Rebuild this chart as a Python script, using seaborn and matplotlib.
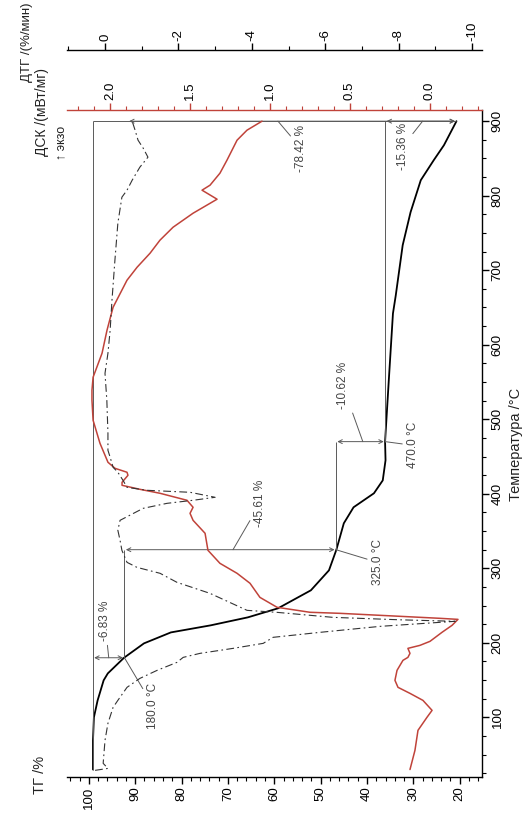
import matplotlib.pyplot as plt
import seaborn as sns
from matplotlib.ticker import MultipleLocator

sns.set_theme(style="white")
plt.rcParams['font.family'] = ['Liberation Sans', 'DejaVu Sans']
plt.rcParams['axes.edgecolor'] = 'black'
plt.rcParams['text.color'] = '#222222'
plt.rcParams['lines.solid_joinstyle'] = 'round'

RED = '#c0433a'
GREY = '#5a5a5a'

# TG curve: temperature (°C) / mass (%)
tg_temp = [30, 69, 100, 122.8, 149.7, 159, 180, 199.3, 214, 223.5, 234.2, 246.3, 270.5,
           297.3, 325, 360.4, 381.9, 400.7, 418, 445, 470, 552, 642, 666, 733.6, 777.9,
           820.8, 847.7, 867.8, 900]
tg_val = [99.1, 99.1, 98.9, 98.1, 96.8, 95.9, 92.4, 88.1, 82.3, 73.7, 65.7, 59.2, 52.1,
          48.2, 46.6, 45.0, 42.9, 38.5, 36.6, 36.0, 36.1, 35.3, 34.4, 33.8, 32.3, 30.6,
          28.4, 25.6, 23.4, 20.7]

# DSC curve (mW/mg)
dsc_temp = [30, 55.7, 82.6, 100, 109.4, 122.8, 132.2, 140.3, 149.7, 163.1, 176.5, 180.5,
            185.9, 192.6, 196.6, 202, 214.1, 223.5, 231.5, 232.9, 235.6, 239.6, 241,
            247.7, 261, 279.9, 293.3, 306.7, 324.2, 347, 364.4, 373.8, 381.9, 391.3,
            400.7, 406, 411.4, 415.4, 424.8, 428.9, 434.2, 442.3, 467.8, 498.7, 525.5,
            539, 556.4, 588.6, 619.5, 650.3, 686.6, 704, 722.8, 740.3, 757.7, 776.5,
            795.3, 807.4, 814.1, 830.2, 847.7, 874.5, 887.9, 900]
dsc_val = [0.125, 0.094, 0.075, 0.019, -0.013, 0.044, 0.125, 0.2, 0.219, 0.206, 0.169,
           0.138, 0.125, 0.138, 0.063, 0.0, -0.075, -0.138, -0.175, -0.063, 0.188, 0.563,
           0.75, 0.956, 1.063, 1.125, 1.206, 1.313, 1.388, 1.406, 1.481, 1.5, 1.481,
           1.519, 1.688, 1.813, 1.925, 1.925, 1.888, 1.894, 1.969, 2.013, 2.063, 2.106,
           2.113, 2.113, 2.106, 2.05, 2.019, 1.981, 1.894, 1.831, 1.75, 1.688, 1.606,
           1.481, 1.331, 1.425, 1.375, 1.313, 1.269, 1.206, 1.144, 1.05]

# DTG curve (%/min)
dtg_temp = [28.9, 31.5, 38.3, 69.1, 92, 113.4, 122.8, 140.3, 152.3, 163.1, 173.8, 180.5,
            185.9, 189.9, 192.6, 199.3, 207.4, 214.1, 222.1, 228.9, 230.9, 234.2, 240.9,
            243.6, 266.4, 281.2, 293.3, 301.3, 308, 324.2, 337.6, 351, 364.4, 380.5,
            387.2, 391.3, 395.3, 402, 404.7, 408.7, 418.1, 428.9, 435.6, 449, 458.4,
            481.2, 525.5, 561.7, 588.6, 619.5, 659.7, 713.4, 763, 798, 807.4, 820.8,
            838.3, 851.7, 863.8, 874.5, 887.9, 900]
dtg_val = [0.27, -0.08, 0.05, 0.0, -0.08, -0.22, -0.35, -0.6, -0.95, -1.42, -1.96, -2.13,
           -2.59, -3.13, -3.49, -4.31, -4.58, -5.86, -7.49, -9.54, -8.04, -6.21, -4.69,
           -3.87, -2.86, -1.96, -1.5, -0.87, -0.6, -0.46, -0.41, -0.35, -0.41, -1.04,
           -1.69, -2.4, -3.0, -2.32, -1.14, -0.6, -0.49, -0.35, -0.22, -0.14, -0.08,
           -0.08, -0.05, 0.0, -0.08, -0.14, -0.19, -0.27, -0.35, -0.46, -0.6, -0.74,
           -0.95, -1.17, -1.04, -0.9, -0.82, -0.74]

# mass-loss steps
levels = [99.14, 92.31, 46.70, 36.08, 20.72]
step_temp = [180, 325, 470, 900]
step_text = ['-6.83 %', '-45.61 %', '-10.62 %', '-15.36 %']
total_text = '-78.42 %'

fig = plt.figure(figsize=(5.26, 8.13), dpi=100)
ax = fig.add_axes([0.1274, 0.0443, 0.7889, 0.8204])
ax2 = ax.twiny()
ax3 = ax.twiny()

sns.lineplot(x=tg_val, y=tg_temp, sort=False, estimator=None, ax=ax, color='black', lw=1.3)
sns.lineplot(x=dsc_val, y=dsc_temp, sort=False, estimator=None, ax=ax2, color=RED, lw=1.1)
sns.lineplot(x=dtg_val, y=dtg_temp, sort=False, estimator=None, ax=ax3, color='#333333', lw=0.8)
ax3.lines[-1].set_dashes([7, 3, 1.5, 3])

ax.set_xlim(104.7, 15.2)
ax.set_ylim(20, 915)
ax2.set_xlim(2.269, -0.325)
ax3.set_xlim(1.035, -10.27)

# reference lines and step arrows
ax.vlines(levels[0], 30, 900, color=GREY, lw=0.7)
ax.vlines(levels[1], step_temp[0], step_temp[1], color=GREY, lw=0.7)
ax.vlines(levels[2], step_temp[1], step_temp[2], color=GREY, lw=0.7)
ax.vlines(levels[3], step_temp[2], step_temp[3], color=GREY, lw=0.7)
ax.hlines(900, levels[0], levels[4], color=GREY, lw=0.7)

arr = dict(arrowstyle='<->', color=GREY, lw=0.7, shrinkA=1, shrinkB=1, mutation_scale=7)
for i in range(3):
    ax.annotate('', xy=(levels[i + 1], step_temp[i]), xytext=(levels[i], step_temp[i]), arrowprops=arr)
ax.annotate('', xy=(levels[4], 900), xytext=(levels[3], 900), arrowprops=arr)
ax.annotate('', xy=(levels[4], 900), xytext=(91.6, 900), arrowprops=arr)

lead = dict(arrowstyle='-', color=GREY, lw=0.7, shrinkA=1, shrinkB=0)
tk = dict(rotation=90, ha='center', va='center', fontsize=8.5, color='#444444')
ax.annotate(step_text[0], xy=(95.7, 180), xytext=(96.55, 230), arrowprops=lead, **tk)
ax.annotate('180.0 °C', xy=(levels[1], 180), xytext=(86.2, 116), arrowprops=lead, **tk)
ax.annotate(step_text[1], xy=(68.9, 325), xytext=(63.1, 387), arrowprops=lead, **tk)
ax.annotate('325.0 °C', xy=(levels[2], 325), xytext=(37.7, 308), arrowprops=lead, **tk)
ax.annotate(step_text[2], xy=(40.9, 470), xytext=(45.2, 545), arrowprops=lead, **tk)
ax.annotate('470.0 °C', xy=(levels[3], 470), xytext=(30.1, 465), arrowprops=lead, **tk)
ax.annotate(total_text, xy=(59.2, 900), xytext=(54.3, 864), arrowprops=lead, **tk)
ax.annotate(step_text[3], xy=(28.0, 900), xytext=(32.3, 866), arrowprops=lead, **tk)

# spines
for s in ['left', 'top']:
    ax.spines[s].set_visible(False)
for s in ['left', 'right', 'bottom']:
    ax2.spines[s].set_visible(False)
    ax3.spines[s].set_visible(False)
ax2.spines['top'].set_color(RED)
ax3.spines['top'].set_position(('outward', 43))
for a in (ax, ax2, ax3):
    for sp in a.spines.values():
        sp.set_linewidth(1.0)

# ticks
ax.xaxis.set_major_locator(MultipleLocator(10))
ax.xaxis.set_minor_locator(MultipleLocator(2))
ax.yaxis.set_major_locator(MultipleLocator(100))
ax.yaxis.set_minor_locator(MultipleLocator(25))
ax.yaxis.tick_right()
ax.tick_params(axis='both', which='major', direction='out', length=5, width=1, labelsize=9.5,
               labelrotation=90, pad=2, colors='black')
ax.tick_params(axis='both', which='minor', direction='out', length=3, width=0.8, colors='black')
ax.tick_params(axis='y', which='both', left=False, right=True)
ax.tick_params(axis='x', which='both', bottom=True, top=False)

ax2.xaxis.set_major_locator(MultipleLocator(0.5))
ax2.xaxis.set_minor_locator(MultipleLocator(0.1))
ax2.tick_params(axis='x', which='major', direction='out', length=5, width=1, color=RED,
                labelcolor='black', labelsize=9.5, labelrotation=90, pad=2)
ax2.tick_params(axis='x', which='minor', direction='out', length=3, width=0.8, color=RED)
ax2.tick_params(axis='y', which='both', left=False, right=False, labelleft=False, labelright=False)

ax3.xaxis.set_major_locator(MultipleLocator(2))
ax3.xaxis.set_minor_locator(MultipleLocator(1))
ax3.tick_params(axis='x', which='major', direction='out', length=5, width=1, color='black',
                labelcolor='black', labelsize=9.5, labelrotation=90, pad=2)
ax3.tick_params(axis='x', which='minor', direction='out', length=3, width=0.8, color='black')
ax3.tick_params(axis='y', which='both', left=False, right=False, labelleft=False, labelright=False)
ax2.xaxis.set_major_formatter(plt.FuncFormatter(lambda v, p: f'{v:.1f}'))
ax3.xaxis.set_major_formatter(plt.FuncFormatter(lambda v, p: f'{v:.0f}' if abs(v) > 1e-9 else '0'))

plt.setp(ax.get_yticklabels(), va='center')

# labels
ax.set_xlabel('')
ax2.set_xlabel('')
ax3.set_xlabel('')
ax.set_ylabel('Температура /°C', rotation=90, fontsize=10.5, color='#222222')
ax.yaxis.set_label_position('right')
ax.yaxis.set_label_coords(1.066, 0.498)
fig.text(0.076, 0.047, 'ТГ /%', rotation=90, ha='center', va='center', fontsize=10.5)
fig.text(0.052, 0.948, 'ДТГ /(%/мин)', rotation=90, ha='center', va='center', fontsize=9.5)
fig.text(0.079, 0.862, 'ДСК /(мВт/мг)', rotation=90, ha='center', va='center', fontsize=10)
fig.text(0.116, 0.824, '↑ экзо', rotation=90, ha='center', va='center', fontsize=9)

fig.savefig('out.png', dpi=100)
